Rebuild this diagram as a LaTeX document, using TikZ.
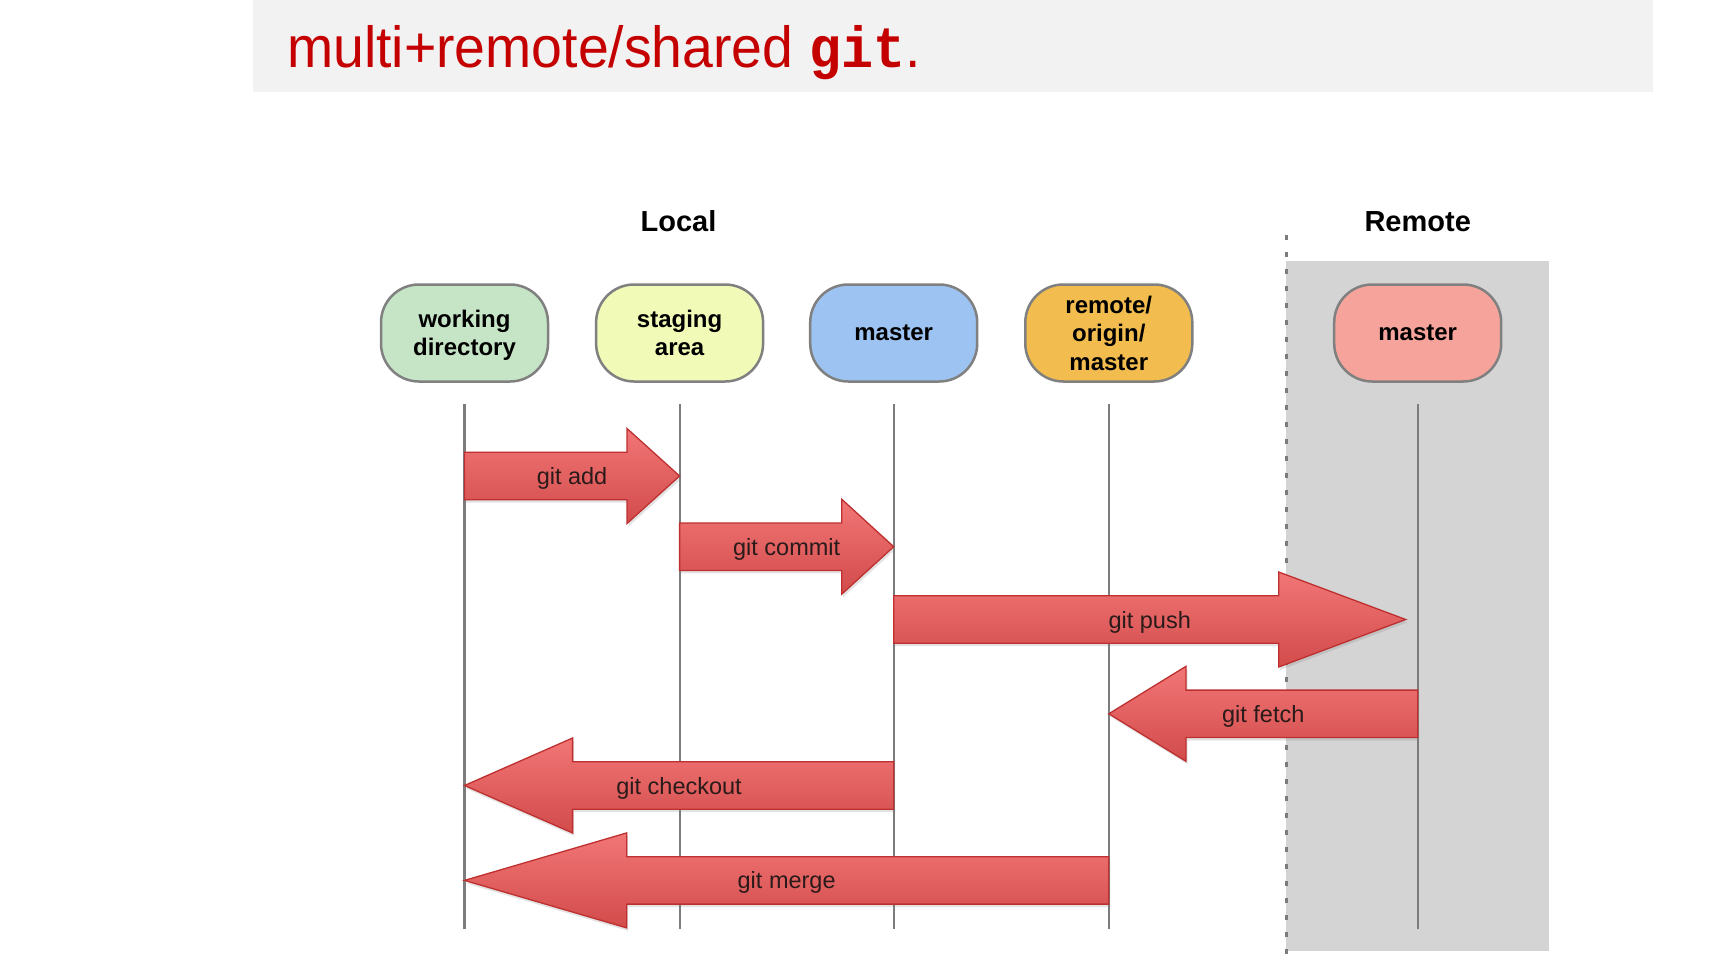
\documentclass[tikz,border=0pt]{standalone}
\usepackage{fontspec}
\usepackage{graphicx}
\setmainfont{Liberation Sans}
\newfontfamily\monob{Liberation Mono}
\usetikzlibrary{shadows,calc}
\definecolor{titlered}{HTML}{C40000}
\definecolor{titlebg}{HTML}{F2F2F2}
\definecolor{bandgray}{HTML}{D4D4D4}
\definecolor{laneline}{HTML}{7C7C7C}
\definecolor{nodeborder}{HTML}{808080}
\definecolor{wdgreen}{HTML}{C6E5C6}
\definecolor{sayellow}{HTML}{F1FAB6}
\definecolor{lmblue}{HTML}{9CC3F1}
\definecolor{ororange}{HTML}{F2BD4E}
\definecolor{rmsalmon}{HTML}{F6A49B}
\definecolor{arrtop}{HTML}{F27676}
\definecolor{arrbot}{HTML}{D24B4B}
\definecolor{arrborder}{HTML}{BE3030}
\definecolor{labeltext}{HTML}{2A1A1A}
\tikzset{
  branch/.style={draw=nodeborder, line width=2.5pt, rounded corners=38pt,
    minimum width=167pt, minimum height=97pt, align=center, inner sep=0pt,
    font=\fontsize{24}{28.5}\selectfont\bfseries, text=black},
  header/.style={font=\fontsize{29}{32}\selectfont\bfseries, text=black, inner sep=0pt},
  lane/.style={draw=laneline, line width=2.2pt},
  dotline/.style={draw=laneline, line width=3pt, dash pattern=on 5pt off 12pt},
  blockarrow/.style={draw=arrborder, line width=1.3pt, top color=arrtop, bottom color=arrbot,
    line join=miter, drop shadow={shadow xshift=1.5pt, shadow yshift=-3pt, opacity=0.22}},
  arrlabel/.style={font=\fontsize{23.5}{26}\selectfont, text=labeltext, inner sep=0pt, anchor=base}
}
% #1 tail node, #2 tip node/coordinate, #3 y (px, downward), #4 head base x, #5 label
\newcommand\blockarr[5]{%
  \path[blockarrow] let \p1=(#1), \p2=(#2) in
    (\x1,{-(#3)+23.7}) -- (#4,{-(#3)+23.7}) -- (#4,{-(#3)+47.5}) -- (\x2,{-(#3)})
    -- (#4,{-(#3)-47.5}) -- (#4,{-(#3)-23.7}) -- (\x1,{-(#3)-23.7}) -- cycle;
  \path let \p1=(#1), \p2=(#2) in
    node[arrlabel] at ({(\x1+\x2)/2},{-(#3)-8.5}) {#5};%
}
\begin{document}
\begin{tikzpicture}[x=1pt,y=1pt]
\useasboundingbox (0,0) rectangle (1730,-974);
\fill[white] (0,0) rectangle (1730,-974);
% title band
\fill[titlebg] (253,0) rectangle (1653,-92);
\node[anchor=base west, inner sep=0pt, text=titlered, font=\fontsize{58}{60}\selectfont] (title) at (287,-68)
  {\scalebox{0.955}[1]{multi+remote/shared }\scalebox{0.92}[1]{\monob\bfseries git}\scalebox{0.955}[1]{.}};
% remote band and divider
\fill[bandgray] (1286,-261) rectangle (1549,-951);
\draw[dotline] (1286,-235) -- (1286,-965);
% headers
\node[header] (local) at (678.5,-221) {Local};
\node[header] (remote) at (1417.7,-222) {Remote};
% branch nodes
\node[branch, fill=wdgreen, text depth=0pt] (wd) at (464.5,-333) {working\\directory};
\node[branch, fill=sayellow, text depth=0pt] (sa) at (679.6,-333) {staging\\area};
\node[branch, fill=lmblue] (lm) at (893.7,-333) {master};
\node[branch, fill=ororange] (or) at (1108.8,-333) {remote/\\origin/\\master};
\node[branch, fill=rmsalmon] (rm) at (1417.7,-333) {master};
% lane lines
\foreach \n in {wd,sa,lm,or,rm}{
  \draw[lane] ([yshift=-71pt]\n.center) -- ([yshift=-596pt]\n.center);
}
\coordinate (pushtip) at ([xshift=-12pt]rm.center);
% arrows
\blockarr{wd}{sa}{476}{627}{git add}
\blockarr{sa}{lm}{546.7}{841.7}{git commit}
\blockarr{lm}{pushtip}{619.5}{1278.7}{git push}
\blockarr{rm}{or}{713.8}{1186}{git fetch}
\blockarr{lm}{wd}{785.5}{572.6}{git checkout}
\blockarr{or}{wd}{880.4}{626.7}{git merge}
\end{tikzpicture}
\end{document}
